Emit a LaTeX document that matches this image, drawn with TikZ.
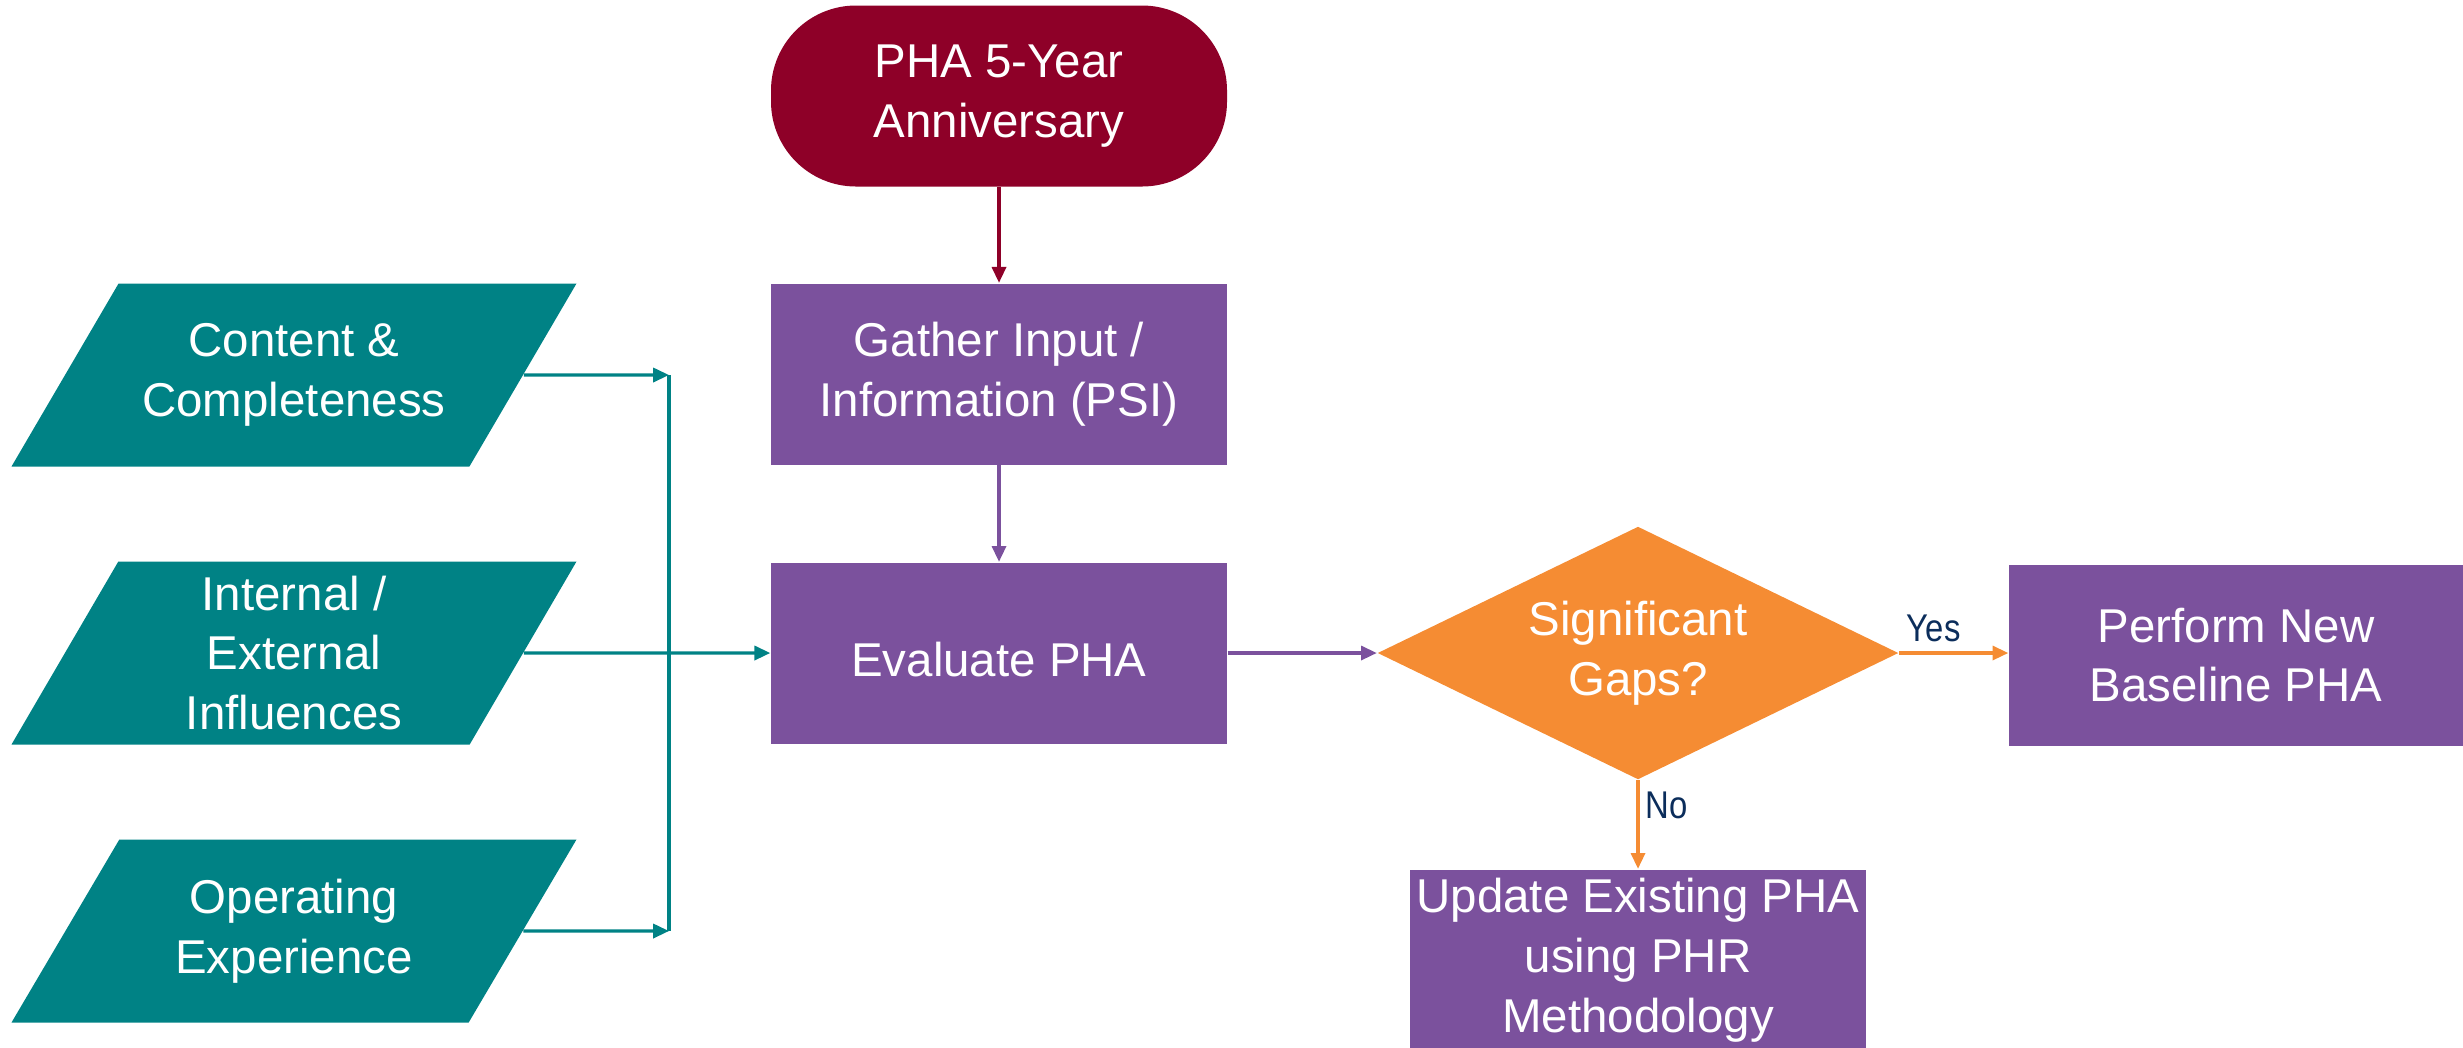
\documentclass[tikz,border=0pt]{standalone}
\usepackage{fontspec}
\setmainfont{Liberation Sans}
\newfontfamily\narrowfont[FakeStretch=0.85]{Liberation Sans}
\usetikzlibrary{shapes.geometric,arrows.meta}
\definecolor{phamaroon}{HTML}{8E0028}
\definecolor{phapurple}{HTML}{7B519D}
\definecolor{phateal}{HTML}{008285}
\definecolor{phaorange}{HTML}{F58C33}
\definecolor{phanavy}{HTML}{0B2D5B}
\begin{document}
\begin{tikzpicture}[
  txt/.style={text=white,align=center,font=\fontsize{13.5}{17}\selectfont,
    execute at begin node={\rule{0pt}{13.4pt}}},
  box/.style={txt,rectangle,fill=phapurple,minimum width=4.56cm,minimum height=1.81cm,inner sep=0pt},
  input/.style={txt,trapezium,trapezium left angle=58.5,trapezium right angle=121.5,
    trapezium stretches body,fill=phateal,minimum width=5.65cm,minimum height=1.83cm,inner xsep=0pt,inner ysep=#1},
  link/.style={line width=0.9pt,-{Triangle[length=4.5pt,width=4pt]}},
  lbl/.style={text=phanavy,font=\narrowfont\fontsize{11}{13}\selectfont,inner sep=1pt}]
\useasboundingbox (0,0) rectangle (24.63,-10.47);
% main column
\node[txt,fill=phamaroon,rounded corners=0.85cm,minimum width=4.56cm,minimum height=1.81cm,inner sep=0pt] (start) at (9.99,-0.96) {PHA 5-Year\\Anniversary};
\node[box] (gather) at (9.99,-3.74) {Gather Input /\\Information (PSI)};
\node[box] (evaluate) at (9.99,-6.53) {Evaluate PHA};
\node[txt,diamond,aspect=2.06,fill=phaorange,minimum width=5.21cm,minimum height=2.53cm,inner sep=0pt] (gaps) at (16.38,-6.53) {Significant\\Gaps?};
\node[box,minimum width=4.54cm] (perform) at (22.36,-6.55) {Perform New\\Baseline PHA};
\node[box] (update) at (16.38,-9.60) {Update Existing PHA\\using PHR\\Methodology};
% inputs
\node[input=0.36cm] (content) at (2.94,-3.75) {Content \&\\Completeness};
\node[input=0.10cm] (influences) at (2.94,-6.53) {Internal /\\External\\Influences};
\node[input=0.36cm] (experience) at (2.94,-9.31) {Operating\\Experience};
\coordinate (brtop) at (6.69,-3.75);
\coordinate (brbot) at (6.69,-9.31);
% connectors
\draw[link,phamaroon] (start) -- (gather);
\draw[link,phapurple] (gather) -- (evaluate);
\draw[link,phapurple] (evaluate) -- (gaps);
\draw[link,phaorange] (gaps.east) -- (gaps.east -| perform.west);
\draw[link,phaorange] (gaps) -- (update);
\draw[link,phateal] (content.east) -- (brtop);
\draw[link,phateal] (experience.east) -- (brbot);
\draw[line width=0.9pt,phateal] (brtop) -- (brbot);
\draw[link,phateal] (influences.east) -- (evaluate.west);
\node[lbl,anchor=south west] (yes) at ([xshift=1pt,yshift=2pt]gaps.east) {Yes};
\node[lbl,anchor=north west] (no) at ([xshift=1pt,yshift=-2pt]gaps.south) {No};
\end{tikzpicture}
\end{document}
